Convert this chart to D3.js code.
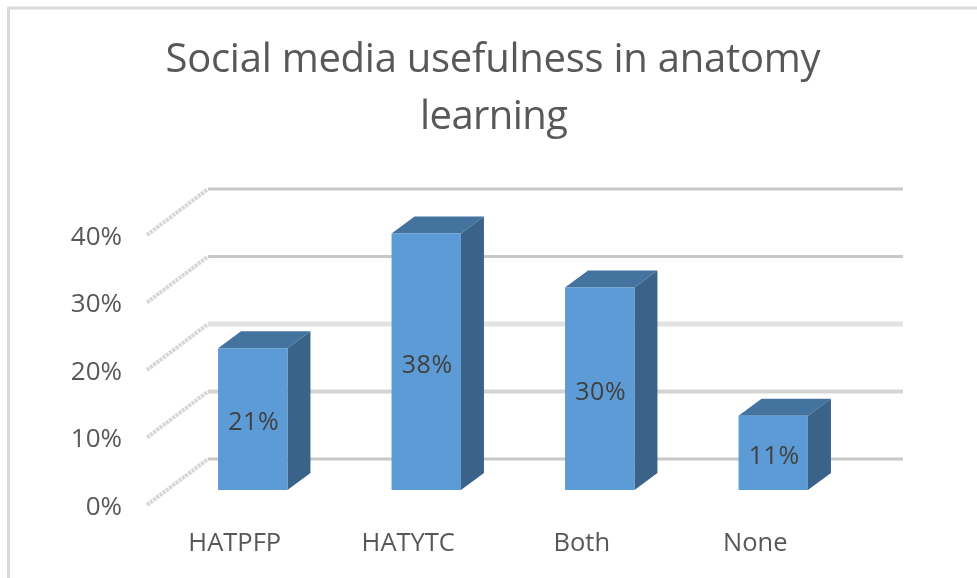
<!DOCTYPE html>
<html><head><meta charset="utf-8">
<script src="https://cdn.jsdelivr.net/npm/d3@7"></script>
<style>
html,body{margin:0;padding:0;background:#fff;overflow:hidden}
svg{display:block}
text{font-family:"Open Sans","Noto Sans",sans-serif}
</style></head><body><svg id="c" width="977" height="578"></svg>
<script>
const categories=["HATPFP","HATYTC","Both","None"];
const values=[21,38,30,11];
const yTicks=[0,10,20,30,40];
const titleLines=["Social media usefulness in anatomy","learning"];

const svg=d3.select("#c");
const defs=svg.append("defs");
defs.append("filter").attr("id","soft").append("feGaussianBlur").attr("stdDeviation",0.7);
defs.append("filter").attr("id","softer").append("feGaussianBlur").attr("stdDeviation",0.45);

// frame
svg.append("path").attr("d","M8.5,578V8H977").attr("fill","none").attr("stroke","#d9d9d9").attr("stroke-width",3);

// title
svg.append("g").attr("filter","url(#softer)").selectAll("text").data(titleLines).join("text")
  .attr("x",(d,i)=>i?494:493).attr("y",(d,i)=>72+i*57)
  .attr("text-anchor","middle").attr("font-size",40).attr("fill","#595959")
  .attr("textLength",(d,i)=>i?148:655).attr("lengthAdjust","spacing").text(d=>d);

// scales
const yFront=d3.scaleLinear().domain([0,40]).range([505,235]);
const x=d3.scaleBand().domain(categories).range([166,860]).paddingInner(0.6).paddingOuter(0.3);
const wall={dx:61,dy:-46,x0:147,x1:903};
const bar={dx:23,dy:-17,base:490};
const yBar=v=>yFront(v)-(505-bar.base);

// grid
const grid=svg.append("g").attr("filter","url(#soft)");
grid.selectAll("line.side").data(yTicks).join("line").attr("class","side")
  .attr("x1",wall.x0).attr("y1",d=>yFront(d))
  .attr("x2",wall.x0+wall.dx).attr("y2",d=>yFront(d)+wall.dy)
  .attr("stroke","#d6d6d6").attr("stroke-width",4).attr("stroke-dasharray","3 1");
grid.selectAll("line.back").data(yTicks).join("line").attr("class","back")
  .attr("x1",wall.x0+wall.dx).attr("x2",wall.x1)
  .attr("y1",d=>yFront(d)+wall.dy).attr("y2",d=>yFront(d)+wall.dy)
  .attr("stroke",d=>d===20?"#e2e2e2":d===10?"#d4d4d4":"#c8c8c8").attr("stroke-width",d=>d===20?5:d===10?4:3);

// bars
const bars=svg.append("g").attr("filter","url(#softer)").selectAll("g").data(values).join("g");
bars.append("path").attr("fill","#44739f").attr("d",(v,i)=>{
  const l=x(categories[i]),r=l+x.bandwidth(),t=yBar(v);
  return `M${l},${t}L${l+bar.dx},${t+bar.dy}H${r+bar.dx}L${r},${t}Z`;});
bars.append("path").attr("fill","#3a6489").attr("d",(v,i)=>{
  const r=x(categories[i])+x.bandwidth(),t=yBar(v);
  return `M${r},${t}L${r+bar.dx},${t+bar.dy}V${bar.base+bar.dy}L${r},${bar.base}Z`;});
bars.append("rect").attr("fill","#5b9bd5")
  .attr("x",(v,i)=>x(categories[i])).attr("width",x.bandwidth())
  .attr("y",v=>yBar(v)).attr("height",v=>bar.base-yBar(v));

// data labels
svg.append("g").attr("filter","url(#softer)").selectAll("text").data(values).join("text")
  .attr("x",(v,i)=>x(categories[i])+x.bandwidth()/2+1)
  .attr("y",v=>(yBar(v)+bar.base)/2+11)
  .attr("text-anchor","middle").attr("font-size",25).attr("fill","#404040")
  .attr("letter-spacing",0.6).text(v=>v+"%");

// axes
const yAxis=d3.axisLeft(yFront).tickValues(yTicks).tickSize(0).tickPadding(0).tickFormat(d=>d+"%");
const gy=svg.append("g").attr("transform","translate(122,1)").attr("filter","url(#softer)").call(yAxis);
gy.select(".domain").remove();
gy.selectAll("text").attr("font-size",26).attr("fill","#595959")
  .style("font-family",'"Open Sans","Noto Sans",sans-serif');

const xAxis=d3.axisBottom(x).tickSize(0).tickPadding(0);
const gx=svg.append("g").attr("transform","translate(-18,533)").attr("filter","url(#softer)").call(xAxis);
gx.select(".domain").remove();
gx.selectAll("text").attr("font-size",25.5).attr("fill","#595959")
  .style("font-family",'"Open Sans","Noto Sans",sans-serif');
</script></body></html>
